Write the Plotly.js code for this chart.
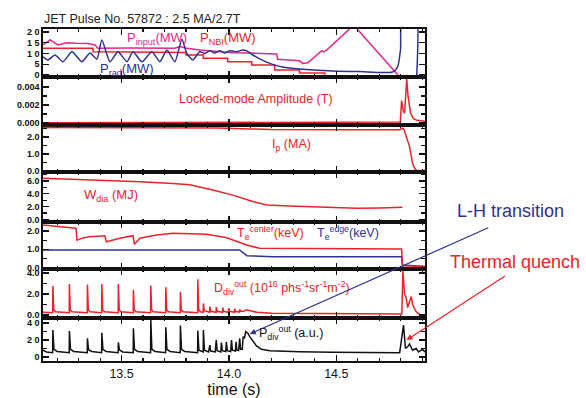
<!DOCTYPE html>
<html><head><meta charset="utf-8">
<script src="https://cdn.plot.ly/plotly-3.0.1.min.js"></script>
<style>html,body{margin:0;padding:0;background:#fff}#chart{width:586px;height:398px}</style>
</head><body><div id="chart"></div>
<script>
// ---------- DATA (time in s) ----------
const tPinput = [13.134,13.167,13.204,13.246,13.292,13.343,13.376,13.390,13.539,13.711,13.748,13.771,13.804,13.864,13.957,14.018,14.222,14.227,14.329,14.343,14.367,14.432,14.441,14.455,14.581,14.790];
const vPinput = [14,16.3,14,15,14.8,14.7,14,12.4,12.6,12.7,12.5,13.2,12.4,11.6,10.8,10.4,9.8,7.3,6.6,5.4,5.7,11.3,10.8,11.6,23.2,-0.3];

const tPnbi = [13.134,13.367,13.367,13.469,13.469,13.80,13.80,13.88,13.88,13.994,13.994,14.106,14.106,14.213,14.213,14.329,14.329,14.446,14.446];
const vPnbi = [12.4,12.4,10.8,10.8,10.5,10.5,9.3,9.3,7.8,7.8,6.2,6.2,4.6,4.6,2.3,2.3,0.9,0.9,0];

const tPrad = [13.134,13.157,13.190,13.227,13.269,13.315,13.353,13.385,13.408,13.446,13.483,13.525,13.553,13.595,13.641,13.678,13.711,13.748,13.781,13.804,13.832,13.864,13.888,13.911,13.934,13.957,13.981,14.004,14.036,14.064,14.083,14.111,14.143,14.176,14.213,14.250,14.329,14.483,14.608,14.762,14.785,14.799,14.808,14.869,14.874];
const vPrad = [8.5,7,9.3,6.2,10.8,6.2,10.2,7.4,16.3,6.2,10.8,6.2,10.8,6.2,10.8,6.2,11.6,6.2,16.6,10,7,10.8,10,11.3,10.2,11.3,10.2,11.3,10.8,11.6,11.2,9.3,7.5,6,4.6,3.7,2.8,1.9,1.6,1.4,3.7,12,30,30,-1];

const tLocked = [13.134,13.5,14.0,14.3,14.4,14.5,14.6,14.7,14.798,14.804,14.812,14.818,14.828,14.834,14.845,14.858,14.875,14.913];
const vLocked = [0.00003,0.00004,0.00004,0.00006,0.00009,0.00006,0.0001,0.00008,0.0001,0.0025,0.0013,0.0011,0.0049,0.0030,0.0012,0.0005,0.0003,0.0002];

const tIp = [13.134,13.4,13.7,13.95,14.1,14.2,14.5,14.795,14.808,14.815,14.841,14.855,14.866,14.874,14.913];
const vIp = [2.56,2.55,2.54,2.52,2.47,2.43,2.42,2.42,2.51,2.45,1.43,0.45,0.12,0.03,0.03];

const tWdia = [13.134,13.274,13.432,13.585,13.739,13.818,13.925,14.018,14.111,14.176,14.283,14.437,14.595,14.702,14.808];
const vWdia = [6.42,6.26,6.05,5.9,5.6,5.4,4.6,3.8,2.8,2.26,2.1,1.9,1.75,1.8,1.9];

const tTeCenter = [13.134,13.213,13.260,13.288,13.292,13.320,13.353,13.422,13.429,13.492,13.553,13.560,13.585,13.664,13.739,13.818,13.897,13.990,14.083,14.143,14.362,14.669,14.804,14.808,14.913];
const vTeCenter = [2.33,2.25,2.18,2.15,1.5,1.62,1.69,1.74,1.41,1.6,1.74,1.27,1.6,1.78,1.87,1.86,1.82,1.63,1.23,1.05,1.05,1.05,1.01,0.1,0.05];

const tTeEdge = [13.134,13.300,13.500,13.700,13.900,14.050,14.083,14.204,14.500,14.804,14.808,14.913];
const vTeEdge = [0.96,0.95,0.96,0.96,0.96,0.96,0.65,0.59,0.59,0.59,0.14,0.05];

const tDdiv = [13.134,13.160,13.179,13.180,13.184,13.192,13.256,13.257,13.261,13.269,13.340,13.341,13.345,13.353,13.407,13.408,13.412,13.420,13.484,13.485,13.489,13.497,13.554,13.555,13.559,13.567,13.635,13.636,13.640,13.648,13.705,13.706,13.710,13.718,13.773,13.774,13.778,13.786,13.854,13.855,13.859,13.867,13.880,13.881,13.885,13.910,13.911,13.915,13.940,13.941,13.945,13.970,13.971,13.975,13.998,13.999,14.003,14.026,14.027,14.031,14.049,14.050,14.054,14.070,14.080,14.100,14.130,14.200,14.400,14.600,14.805,14.810,14.818,14.826,14.832,14.849,14.855,14.872,14.888,14.913];
const vDdiv = [0.25,0.22,0.22,2.75,0.5,0.3,0.22,2.95,0.5,0.3,0.22,2.9,0.5,0.3,0.22,2.95,0.5,0.3,0.22,2.95,0.5,0.3,0.22,2.4,0.5,0.3,0.22,2.8,0.5,0.3,0.22,2.65,0.5,0.3,0.22,2.2,0.5,0.3,0.22,3.4,0.5,0.3,0.25,1.1,0.4,0.25,0.8,0.35,0.25,0.75,0.35,0.25,0.7,0.35,0.25,0.65,0.35,0.25,0.6,0.35,0.28,0.55,0.35,0.35,0.5,0.4,0.25,0.16,0.12,0.1,0.1,4.2,2.0,1.6,0.7,1.75,1.0,0.3,0.05,0.03];

const tPdiv = [13.134,13.150,13.179,13.180,13.185,13.200,13.256,13.257,13.262,13.277,13.340,13.341,13.346,13.361,13.407,13.408,13.413,13.428,13.484,13.485,13.490,13.505,13.554,13.555,13.560,13.575,13.635,13.636,13.641,13.656,13.705,13.706,13.711,13.726,13.773,13.774,13.779,13.794,13.854,13.855,13.860,13.875,13.880,13.881,13.886,13.905,13.911,13.915,13.936,13.941,13.945,13.962,13.965,13.969,13.985,13.988,13.992,14.008,14.012,14.016,14.030,14.033,14.037,14.045,14.050,14.054,14.062,14.066,14.072,14.078,14.088,14.097,14.112,14.128,14.151,14.190,14.329,14.483,14.795,14.813,14.822,14.832,14.841,14.855,14.872,14.883,14.901,14.913];
const vPdiv = [8,6,5,31.8,9,6.5,5,30.6,9,6.5,5,22,8.5,6.5,5,28.6,9,6.5,5,17.3,8.5,6,5,33.7,9,6.5,5,44,9,6.5,5,35,9,6.5,5,37,9,6.5,5,31,8,6,6,31.8,8,6,14,7,6,20,7.5,6,17,7.5,6.5,18,7.5,6.5,20,8,7,18,8,7.5,22,9,9,24,22,30,28,24,18,13,9,7.5,6.3,5.5,5.1,37.6,10,12,15.3,8,10,6,9,6];

const xTicks = [13.5,14.0,14.5];
const xTickText = ['13.5','14.0','14.5'];
const p1TickVals = [0,5,10,15,20];
const p1TickText = ['0','5','1 0','1 5','2 0'];
const p7TickVals = [0,20,40];
const p7TickText = ['0','2 0','4 0'];

// ---------- STYLE ----------
const RED = '#ec2228', PINK = '#e4268c', BLUE = '#2e3192', BLACK = '#111';
const FONT = 'Liberation Sans, Arial, Helvetica, sans-serif';
const XR = [13.134, 14.913];
const LW = 1.5;

function tr(x, y, color, k, extra) {
  return Object.assign({x: x, y: y, type: 'scatter', mode: 'lines', line: {color: color, width: LW},
    xaxis: 'x' + (k === 1 ? '' : k), yaxis: 'y' + (k === 1 ? '' : k), showlegend: false, hoverinfo: 'skip'}, extra || {});
}

const data = [
  tr(tPnbi, vPnbi, RED, 1),
  tr(tPinput, vPinput, PINK, 1),
  tr(tPrad, vPrad, BLUE, 1, {line: {color: BLUE, width: LW, shape: 'spline', smoothing: 0.6}}),
  tr(tLocked, vLocked, RED, 2),
  tr(tIp, vIp, RED, 3),
  tr(tWdia, vWdia, RED, 4),
  tr(tTeEdge, vTeEdge, BLUE, 5),
  tr(tTeCenter, vTeCenter, RED, 5),
  tr(tDdiv, vDdiv, RED, 6),
  tr(tPdiv, vPdiv, BLACK, 7)
];

// panel pixel edges (top..bottom) -> domains
const edges = [29, 77, 125, 172, 222, 269, 318, 361];
const H = 332;
function dom(k) { return [(361 - edges[k]) / H, (361 - edges[k - 1]) / H]; }

const tickFont = {family: FONT, size: 9, color: '#111', weight: 'bold'};
function yax(k, range, opts) {
  return Object.assign({domain: dom(k), range: range, anchor: 'x' + (k === 1 ? '' : k),
    ticks: 'inside', ticklen: 6, tickwidth: 1.2, tickcolor: '#111', showline: true, linewidth: 1.6, linecolor: '#111',
    mirror: 'allticks', showgrid: false, zeroline: false, tickfont: tickFont, fixedrange: true}, opts);
}
function xax(k) {
  const a = {range: XR, anchor: 'y' + (k === 1 ? '' : k), tickvals: xTicks, ticktext: xTickText,
    ticks: 'inside', ticklen: 6, tickwidth: 1.2, tickcolor: '#111', showline: true, linewidth: 1.6, linecolor: '#111',
    mirror: 'allticks', showgrid: false, zeroline: false, showticklabels: k === 7,
    minor: {dtick: 0.1, tick0: 13.1, ticks: 'inside', ticklen: 3, tickcolor: '#111'},
    tickfont: {family: FONT, size: 12.5, color: '#111'}};
  if (k === 7) { a.title = {text: 'time (s)', font: {family: FONT, size: 16, color: '#111'}, standoff: 4}; }
  return a;
}

const layout = {
  width: 586, height: 398, margin: {l: 43, r: 161, t: 29, b: 37, pad: 0},
  paper_bgcolor: '#fff', plot_bgcolor: '#fff', font: {family: FONT},
  yaxis: yax(1, [-0.93, 21.4], {tickmode: 'array', tickvals: p1TickVals, ticktext: p1TickText}),
  yaxis2: yax(2, [-0.00022, 0.00511], {dtick: 0.002, tick0: 0, tickformat: '.3f', minor: {dtick: 0.001, ticks: 'inside', ticklen: 4, tickcolor: '#111'}}),
  yaxis3: yax(3, [-0.06, 2.7], {dtick: 1, tick0: 0, tickformat: '.1f', minor: {dtick: 0.5, ticks: 'inside', ticklen: 4, tickcolor: '#111'}}),
  yaxis4: yax(4, [-0.39, 7.4], {dtick: 2, tick0: 0, tickformat: '.1f', minor: {dtick: 1, ticks: 'inside', ticklen: 4, tickcolor: '#111'}}),
  yaxis5: yax(5, [-0.08, 2.49], {dtick: 1, tick0: 0, tickformat: '.1f', minor: {dtick: 0.5, ticks: 'inside', ticklen: 4, tickcolor: '#111'}}),
  yaxis6: yax(6, [-0.29, 4.38], {dtick: 2, tick0: 0, tickformat: '.1f', minor: {dtick: 1, ticks: 'inside', ticklen: 4, tickcolor: '#111'}}),
  yaxis7: yax(7, [-4.7, 45.9], {tickmode: 'array', tickvals: p7TickVals, ticktext: p7TickText, minor: {tickvals: [10, 30], ticks: 'inside', ticklen: 4, tickcolor: '#111'}}),
  xaxis: xax(1), xaxis2: xax(2), xaxis3: xax(3), xaxis4: xax(4), xaxis5: xax(5), xaxis6: xax(6), xaxis7: xax(7),
  annotations: []
};

function px2x(px) { return (px - 43) / 382; }
function px2y(py) { return (361 - py) / H; }
function lab(text, pxL, pyC, color, size, anchor) {
  layout.annotations.push({text: text, xref: 'paper', yref: 'paper', x: px2x(pxL), y: px2y(pyC),
    xanchor: anchor || 'left', yanchor: 'middle', showarrow: false,
    font: {family: FONT, size: size, color: color}});
}
lab('JET Pulse No. 57872 : 2.5 MA/2.7T', 42, 19, '#222', 12.5);
lab('P<sub>input</sub>(MW)', 125, 38, PINK, 13);
lab('P<sub>NBI</sub>(MW)', 198, 38, RED, 13);
lab('P<sub>rad</sub>(MW)', 98, 69, BLUE, 13);
lab('Locked-mode Amplitude (T)', 177, 99, RED, 12.5);
lab('I<sub>p</sub> (MA)', 270, 145, RED, 12.5);
lab('W<sub>dia</sub> (MJ)', 82, 195, RED, 13);
lab('T<sub>e</sub><sup>center</sup>(keV)', 235, 233, RED, 12.5);
lab('T<sub>e</sub><sup>edge</sup>(keV)', 315, 233, BLUE, 12.5);
lab('D<sub>div</sub><sup>out</sup> (10<sup>16</sup> phs<sup>-1</sup>sr<sup>-1</sup>m<sup>-2</sup>)', 212, 288, RED, 12.5);
lab('P<sub>div</sub><sup>out</sup> (a.u.)', 257, 333, '#111', 12.5);
lab('L-H transition', 510, 211, BLUE, 18, 'center');
lab('Thermal quench', 515, 262, RED, 18, 'center');

// arrows
layout.annotations.push({text: '', x: 14.097, y: 27, xref: 'x7', yref: 'y7', ax: 240, ay: -107,
  showarrow: true, arrowhead: 2, arrowsize: 1, arrowwidth: 1.2, arrowcolor: BLUE});
layout.annotations.push({text: '', x: 14.827, y: 20, xref: 'x7', yref: 'y7', ax: 100, ay: -65,
  showarrow: true, arrowhead: 2, arrowsize: 1, arrowwidth: 1.2, arrowcolor: RED});

Plotly.newPlot('chart', data, layout, {staticPlot: true, displayModeBar: false});
</script>
</body></html>
